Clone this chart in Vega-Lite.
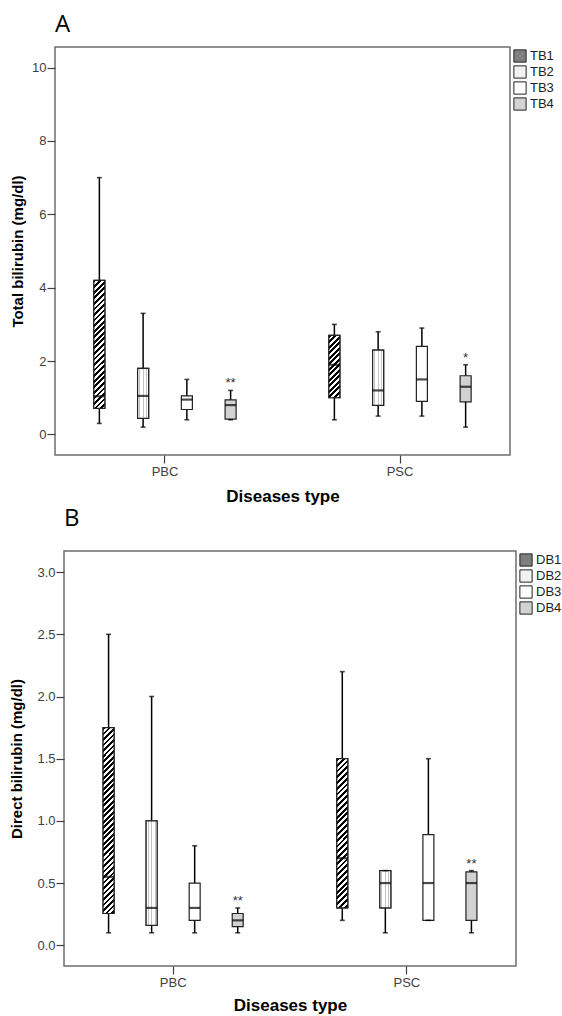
{
"$schema":"https://vega.github.io/schema/vega-lite/v6.json",
"padding":{"left":2,"top":12,"right":0,"bottom":0},
"background":"white",
"config":{
 "font":"Liberation Sans",
 "view":{"stroke":"#6e6e6e","strokeWidth":1.5},
 "axis":{"domain":false,"grid":false,"labelFont":"Liberation Sans","labelFontSize":13,"labelColor":"#404040","tickColor":"#404040","tickSize":8,"tickWidth":1.2,"titleFont":"Liberation Sans","titleFontSize":15,"titleFontWeight":"bold","titleColor":"#000"},
 "legend":{"symbolStrokeColor":"#222","symbolStrokeWidth":1},
 "title":{"anchor":"start","frame":"group","font":"Open Sans","fontSize":24,"fontWeight":"normal","color":"#000","offset":10}
},
"vconcat":[
{"hconcat":[
{"width":1,"height":1,"view":{"stroke":null},"data":{"values":[{"z":0}]},"mark":{"type":"point","opacity":0},"encoding":{}},
{
 "title":"A",
 "width":455,"height":408,
 "data":{"values":[
  {"d":"PBC","s":"TB1","min":0.3,"q1":0.71,"med":1.04,"q3":4.2,"max":7.0},
  {"d":"PBC","s":"TB2","min":0.2,"q1":0.44,"med":1.05,"q3":1.8,"max":3.3},
  {"d":"PBC","s":"TB3","min":0.4,"q1":0.68,"med":0.95,"q3":1.05,"max":1.5},
  {"d":"PBC","s":"TB4","min":0.4,"q1":0.42,"med":0.8,"q3":0.94,"max":1.2,"sig":"**"},
  {"d":"PSC","s":"TB1","min":0.4,"q1":1.0,"med":1.9,"q3":2.7,"max":3.0},
  {"d":"PSC","s":"TB2","min":0.5,"q1":0.79,"med":1.2,"q3":2.3,"max":2.8},
  {"d":"PSC","s":"TB3","min":0.5,"q1":0.9,"med":1.5,"q3":2.4,"max":2.9},
  {"d":"PSC","s":"TB4","min":0.2,"q1":0.89,"med":1.3,"q3":1.6,"max":1.9,"sig":"*"}
 ]},
 "encoding":{
  "x":{"field":"d","type":"nominal","title":"Diseases type","scale":{"paddingInner":0.064,"paddingOuter":0},"axis":{"labelAngle":0,"labelPadding":2,"titlePadding":10,"titleFontSize":17}},
  "xOffset":{"field":"s","type":"nominal","scale":{"paddingInner":0.748,"paddingOuter":0.888}}
 },
 "layer":[
  {"mark":{"type":"rule","color":"#000","strokeWidth":1.5},
   "encoding":{"y":{"field":"min","type":"quantitative","title":"Total bilirubin (mg/dl)","scale":{"domain":[-0.56,10.56],"nice":false,"zero":false},"axis":{"values":[0,2,4,6,8,10],"labelPadding":1,"titlePadding":6}},"y2":{"field":"max"}}},
  {"mark":{"type":"bar","stroke":"#222","strokeWidth":1.2},
   "encoding":{"y":{"field":"q1","type":"quantitative","title":"Total bilirubin (mg/dl)"},"y2":{"field":"q3"},
    "fill":{"field":"s","type":"nominal","scale":{"domain":["TB1","TB2","TB3","TB4"],"range":["#7f7f7f","#f2f2f2","#ffffff","#d2d2d2"]},
     "legend":{"title":null,"orient":"right","offset":0,"padding":2,"symbolType":"square","symbolSize":150,"labelFontSize":13,"labelFont":"Liberation Sans","labelColor":"#222","rowPadding":-2,"labelOffset":3}}}},
  {"transform":[{"filter":"datum.s==='TB2'"}],
   "mark":{"type":"bar","stroke":"#222","strokeWidth":1.2,"fill":{"gradient":"linear","x1":0,"y1":0,"x2":1,"y2":0,"stops":[{"offset":0,"color":"#fff"},{"offset":0.14,"color":"#fff"},{"offset":0.14,"color":"#c4c4c4"},{"offset":0.22,"color":"#c4c4c4"},{"offset":0.22,"color":"#fff"},{"offset":0.46,"color":"#fff"},{"offset":0.46,"color":"#c4c4c4"},{"offset":0.54,"color":"#c4c4c4"},{"offset":0.54,"color":"#fff"},{"offset":0.78,"color":"#fff"},{"offset":0.78,"color":"#c4c4c4"},{"offset":0.86,"color":"#c4c4c4"},{"offset":0.86,"color":"#fff"},{"offset":1,"color":"#fff"}]}},
   "encoding":{"y":{"field":"q1","type":"quantitative","title":"Total bilirubin (mg/dl)"},"y2":{"field":"q3"}}},
  {"transform":[{"filter":"datum.s==='TB1' && datum.d==='PBC'"}],
   "mark":{"type":"bar","stroke":"#222","strokeWidth":1.2,"fill":{"gradient":"linear","x1":0,"y1":0,"x2":0.0926,"y2":1.078,"stops":[
    {"offset":0,"color":"#000"},
    {"offset":0.02,"color":"#000"},{"offset":0.02,"color":"#fff"},{"offset":0.04,"color":"#fff"},{"offset":0.04,"color":"#000"},
    {"offset":0.06,"color":"#000"},{"offset":0.06,"color":"#fff"},{"offset":0.08,"color":"#fff"},{"offset":0.08,"color":"#000"},
    {"offset":0.1,"color":"#000"},{"offset":0.1,"color":"#fff"},{"offset":0.12,"color":"#fff"},{"offset":0.12,"color":"#000"},
    {"offset":0.14,"color":"#000"},{"offset":0.14,"color":"#fff"},{"offset":0.16,"color":"#fff"},{"offset":0.16,"color":"#000"},
    {"offset":0.18,"color":"#000"},{"offset":0.18,"color":"#fff"},{"offset":0.2,"color":"#fff"},{"offset":0.2,"color":"#000"},
    {"offset":0.22,"color":"#000"},{"offset":0.22,"color":"#fff"},{"offset":0.24,"color":"#fff"},{"offset":0.24,"color":"#000"},
    {"offset":0.26,"color":"#000"},{"offset":0.26,"color":"#fff"},{"offset":0.28,"color":"#fff"},{"offset":0.28,"color":"#000"},
    {"offset":0.3,"color":"#000"},{"offset":0.3,"color":"#fff"},{"offset":0.32,"color":"#fff"},{"offset":0.32,"color":"#000"},
    {"offset":0.34,"color":"#000"},{"offset":0.34,"color":"#fff"},{"offset":0.36,"color":"#fff"},{"offset":0.36,"color":"#000"},
    {"offset":0.38,"color":"#000"},{"offset":0.38,"color":"#fff"},{"offset":0.4,"color":"#fff"},{"offset":0.4,"color":"#000"},
    {"offset":0.42,"color":"#000"},{"offset":0.42,"color":"#fff"},{"offset":0.44,"color":"#fff"},{"offset":0.44,"color":"#000"},
    {"offset":0.46,"color":"#000"},{"offset":0.46,"color":"#fff"},{"offset":0.48,"color":"#fff"},{"offset":0.48,"color":"#000"},
    {"offset":0.5,"color":"#000"},{"offset":0.5,"color":"#fff"},{"offset":0.52,"color":"#fff"},{"offset":0.52,"color":"#000"},
    {"offset":0.54,"color":"#000"},{"offset":0.54,"color":"#fff"},{"offset":0.56,"color":"#fff"},{"offset":0.56,"color":"#000"},
    {"offset":0.58,"color":"#000"},{"offset":0.58,"color":"#fff"},{"offset":0.6,"color":"#fff"},{"offset":0.6,"color":"#000"},
    {"offset":0.62,"color":"#000"},{"offset":0.62,"color":"#fff"},{"offset":0.64,"color":"#fff"},{"offset":0.64,"color":"#000"},
    {"offset":0.66,"color":"#000"},{"offset":0.66,"color":"#fff"},{"offset":0.68,"color":"#fff"},{"offset":0.68,"color":"#000"},
    {"offset":0.7,"color":"#000"},{"offset":0.7,"color":"#fff"},{"offset":0.72,"color":"#fff"},{"offset":0.72,"color":"#000"},
    {"offset":0.74,"color":"#000"},{"offset":0.74,"color":"#fff"},{"offset":0.76,"color":"#fff"},{"offset":0.76,"color":"#000"},
    {"offset":0.78,"color":"#000"},{"offset":0.78,"color":"#fff"},{"offset":0.8,"color":"#fff"},{"offset":0.8,"color":"#000"},
    {"offset":0.82,"color":"#000"},{"offset":0.82,"color":"#fff"},{"offset":0.84,"color":"#fff"},{"offset":0.84,"color":"#000"},
    {"offset":0.86,"color":"#000"},{"offset":0.86,"color":"#fff"},{"offset":0.88,"color":"#fff"},{"offset":0.88,"color":"#000"},
    {"offset":0.9,"color":"#000"},{"offset":0.9,"color":"#fff"},{"offset":0.92,"color":"#fff"},{"offset":0.92,"color":"#000"},
    {"offset":0.94,"color":"#000"},{"offset":0.94,"color":"#fff"},{"offset":0.96,"color":"#fff"},{"offset":0.96,"color":"#000"},
    {"offset":0.98,"color":"#000"},{"offset":0.98,"color":"#fff"},{"offset":1,"color":"#fff"}]}},
   "encoding":{"y":{"field":"q1","type":"quantitative","title":"Total bilirubin (mg/dl)"},"y2":{"field":"q3"}}},
  {"transform":[{"filter":"datum.s==='TB1' && datum.d==='PSC'"}],
   "mark":{"type":"bar","stroke":"#222","strokeWidth":1.2,"fill":{"gradient":"linear","x1":0,"y1":0,"x2":0.2011,"y2":1.1408,"stops":[
    {"offset":0,"color":"#000"},
    {"offset":0.0375,"color":"#000"},{"offset":0.0375,"color":"#fff"},{"offset":0.075,"color":"#fff"},{"offset":0.075,"color":"#000"},
    {"offset":0.1125,"color":"#000"},{"offset":0.1125,"color":"#fff"},{"offset":0.15,"color":"#fff"},{"offset":0.15,"color":"#000"},
    {"offset":0.1875,"color":"#000"},{"offset":0.1875,"color":"#fff"},{"offset":0.225,"color":"#fff"},{"offset":0.225,"color":"#000"},
    {"offset":0.2625,"color":"#000"},{"offset":0.2625,"color":"#fff"},{"offset":0.3,"color":"#fff"},{"offset":0.3,"color":"#000"},
    {"offset":0.3375,"color":"#000"},{"offset":0.3375,"color":"#fff"},{"offset":0.375,"color":"#fff"},{"offset":0.375,"color":"#000"},
    {"offset":0.4125,"color":"#000"},{"offset":0.4125,"color":"#fff"},{"offset":0.45,"color":"#fff"},{"offset":0.45,"color":"#000"},
    {"offset":0.4875,"color":"#000"},{"offset":0.4875,"color":"#fff"},{"offset":0.525,"color":"#fff"},{"offset":0.525,"color":"#000"},
    {"offset":0.5625,"color":"#000"},{"offset":0.5625,"color":"#fff"},{"offset":0.6,"color":"#fff"},{"offset":0.6,"color":"#000"},
    {"offset":0.6375,"color":"#000"},{"offset":0.6375,"color":"#fff"},{"offset":0.675,"color":"#fff"},{"offset":0.675,"color":"#000"},
    {"offset":0.7125,"color":"#000"},{"offset":0.7125,"color":"#fff"},{"offset":0.75,"color":"#fff"},{"offset":0.75,"color":"#000"},
    {"offset":0.7875,"color":"#000"},{"offset":0.7875,"color":"#fff"},{"offset":0.825,"color":"#fff"},{"offset":0.825,"color":"#000"},
    {"offset":0.8625,"color":"#000"},{"offset":0.8625,"color":"#fff"},{"offset":0.9,"color":"#fff"},{"offset":0.9,"color":"#000"},
    {"offset":0.9375,"color":"#000"},{"offset":0.9375,"color":"#fff"},{"offset":0.975,"color":"#fff"},{"offset":0.975,"color":"#000"},
    {"offset":1,"color":"#000"}]}},
   "encoding":{"y":{"field":"q1","type":"quantitative","title":"Total bilirubin (mg/dl)"},"y2":{"field":"q3"}}},
  {"mark":{"type":"tick","color":"#000","thickness":2.2,"size":11},
   "encoding":{"y":{"field":"med","type":"quantitative","title":"Total bilirubin (mg/dl)"}}},
  {"mark":{"type":"tick","color":"#000","thickness":1.6,"size":5},
   "encoding":{"y":{"field":"min","type":"quantitative","title":"Total bilirubin (mg/dl)"}}},
  {"mark":{"type":"tick","color":"#000","thickness":1.6,"size":5},
   "encoding":{"y":{"field":"max","type":"quantitative","title":"Total bilirubin (mg/dl)"}}},
  {"transform":[{"filter":"datum.sig"}],
   "mark":{"type":"text","font":"Liberation Sans","fontSize":13,"color":"#333","baseline":"alphabetic","dy":-3},
   "encoding":{"y":{"field":"max","type":"quantitative","title":"Total bilirubin (mg/dl)"},"text":{"field":"sig"}}}
 ]
}
],"spacing":0},
{"hconcat":[
{"width":1,"height":1,"view":{"stroke":null},"data":{"values":[{"z":0}]},"mark":{"type":"point","opacity":0},"encoding":{}},
{
 "title":{"text":"B","offset":20},
 "width":452,"height":415,
 "data":{"values":[
  {"d":"PBC","s":"DB1","min":0.1,"q1":0.255,"med":0.55,"q3":1.75,"max":2.5},
  {"d":"PBC","s":"DB2","min":0.1,"q1":0.16,"med":0.3,"q3":1.0,"max":2.0},
  {"d":"PBC","s":"DB3","min":0.1,"q1":0.2,"med":0.3,"q3":0.5,"max":0.8},
  {"d":"PBC","s":"DB4","min":0.1,"q1":0.15,"med":0.2,"q3":0.255,"max":0.3,"sig":"**"},
  {"d":"PSC","s":"DB1","min":0.2,"q1":0.3,"med":0.7,"q3":1.5,"max":2.2},
  {"d":"PSC","s":"DB2","min":0.1,"q1":0.3,"med":0.5,"q3":0.6,"max":0.6},
  {"d":"PSC","s":"DB3","min":0.2,"q1":0.2,"med":0.5,"q3":0.89,"max":1.5},
  {"d":"PSC","s":"DB4","min":0.1,"q1":0.2,"med":0.5,"q3":0.59,"max":0.6,"sig":"**"}
 ]},
 "encoding":{
  "x":{"field":"d","type":"nominal","title":"Diseases type","scale":{"paddingInner":0.066,"paddingOuter":0},"axis":{"labelAngle":0,"labelPadding":2,"titlePadding":8,"titleFontSize":17}},
  "xOffset":{"field":"s","type":"nominal","scale":{"paddingInner":0.745,"paddingOuter":0.908}}
 },
 "layer":[
  {"mark":{"type":"rule","color":"#000","strokeWidth":1.5},
   "encoding":{"y":{"field":"min","type":"quantitative","title":"Direct bilirubin (mg/dl)","scale":{"domain":[-0.167,3.17],"nice":false,"zero":false},"axis":{"values":[0,0.5,1,1.5,2,2.5,3],"format":".1f","labelPadding":1,"titlePadding":12}},"y2":{"field":"max"}}},
  {"mark":{"type":"bar","stroke":"#222","strokeWidth":1.2},
   "encoding":{"y":{"field":"q1","type":"quantitative","title":"Direct bilirubin (mg/dl)"},"y2":{"field":"q3"},
    "fill":{"field":"s","type":"nominal","scale":{"domain":["DB1","DB2","DB3","DB4"],"range":["#7f7f7f","#f2f2f2","#ffffff","#d2d2d2"]},
     "legend":{"title":null,"orient":"right","offset":0,"padding":2,"symbolType":"square","symbolSize":150,"labelFontSize":13,"labelFont":"Liberation Sans","labelColor":"#222","rowPadding":-2,"labelOffset":3}}}},
  {"transform":[{"filter":"datum.s==='DB2'"}],
   "mark":{"type":"bar","stroke":"#222","strokeWidth":1.2,"fill":{"gradient":"linear","x1":0,"y1":0,"x2":1,"y2":0,"stops":[{"offset":0,"color":"#fff"},{"offset":0.14,"color":"#fff"},{"offset":0.14,"color":"#c4c4c4"},{"offset":0.22,"color":"#c4c4c4"},{"offset":0.22,"color":"#fff"},{"offset":0.46,"color":"#fff"},{"offset":0.46,"color":"#c4c4c4"},{"offset":0.54,"color":"#c4c4c4"},{"offset":0.54,"color":"#fff"},{"offset":0.78,"color":"#fff"},{"offset":0.78,"color":"#c4c4c4"},{"offset":0.86,"color":"#c4c4c4"},{"offset":0.86,"color":"#fff"},{"offset":1,"color":"#fff"}]}},
   "encoding":{"y":{"field":"q1","type":"quantitative","title":"Direct bilirubin (mg/dl)"},"y2":{"field":"q3"}}},
  {"transform":[{"filter":"datum.s==='DB1' && datum.d==='PBC'"}],
   "mark":{"type":"bar","stroke":"#222","strokeWidth":1.2,"fill":{"gradient":"linear","x1":0,"y1":0,"x2":0.0625,"y2":1.0555,"stops":[
    {"offset":0,"color":"#000"},
    {"offset":0.014,"color":"#000"},{"offset":0.014,"color":"#fff"},{"offset":0.028,"color":"#fff"},{"offset":0.028,"color":"#000"},
    {"offset":0.042,"color":"#000"},{"offset":0.042,"color":"#fff"},{"offset":0.056,"color":"#fff"},{"offset":0.056,"color":"#000"},
    {"offset":0.07,"color":"#000"},{"offset":0.07,"color":"#fff"},{"offset":0.084,"color":"#fff"},{"offset":0.084,"color":"#000"},
    {"offset":0.098,"color":"#000"},{"offset":0.098,"color":"#fff"},{"offset":0.112,"color":"#fff"},{"offset":0.112,"color":"#000"},
    {"offset":0.126,"color":"#000"},{"offset":0.126,"color":"#fff"},{"offset":0.14,"color":"#fff"},{"offset":0.14,"color":"#000"},
    {"offset":0.154,"color":"#000"},{"offset":0.154,"color":"#fff"},{"offset":0.168,"color":"#fff"},{"offset":0.168,"color":"#000"},
    {"offset":0.182,"color":"#000"},{"offset":0.182,"color":"#fff"},{"offset":0.196,"color":"#fff"},{"offset":0.196,"color":"#000"},
    {"offset":0.21,"color":"#000"},{"offset":0.21,"color":"#fff"},{"offset":0.224,"color":"#fff"},{"offset":0.224,"color":"#000"},
    {"offset":0.238,"color":"#000"},{"offset":0.238,"color":"#fff"},{"offset":0.252,"color":"#fff"},{"offset":0.252,"color":"#000"},
    {"offset":0.266,"color":"#000"},{"offset":0.266,"color":"#fff"},{"offset":0.28,"color":"#fff"},{"offset":0.28,"color":"#000"},
    {"offset":0.294,"color":"#000"},{"offset":0.294,"color":"#fff"},{"offset":0.308,"color":"#fff"},{"offset":0.308,"color":"#000"},
    {"offset":0.322,"color":"#000"},{"offset":0.322,"color":"#fff"},{"offset":0.336,"color":"#fff"},{"offset":0.336,"color":"#000"},
    {"offset":0.35,"color":"#000"},{"offset":0.35,"color":"#fff"},{"offset":0.364,"color":"#fff"},{"offset":0.364,"color":"#000"},
    {"offset":0.378,"color":"#000"},{"offset":0.378,"color":"#fff"},{"offset":0.392,"color":"#fff"},{"offset":0.392,"color":"#000"},
    {"offset":0.406,"color":"#000"},{"offset":0.406,"color":"#fff"},{"offset":0.42,"color":"#fff"},{"offset":0.42,"color":"#000"},
    {"offset":0.434,"color":"#000"},{"offset":0.434,"color":"#fff"},{"offset":0.448,"color":"#fff"},{"offset":0.448,"color":"#000"},
    {"offset":0.462,"color":"#000"},{"offset":0.462,"color":"#fff"},{"offset":0.476,"color":"#fff"},{"offset":0.476,"color":"#000"},
    {"offset":0.49,"color":"#000"},{"offset":0.49,"color":"#fff"},{"offset":0.504,"color":"#fff"},{"offset":0.504,"color":"#000"},
    {"offset":0.518,"color":"#000"},{"offset":0.518,"color":"#fff"},{"offset":0.532,"color":"#fff"},{"offset":0.532,"color":"#000"},
    {"offset":0.546,"color":"#000"},{"offset":0.546,"color":"#fff"},{"offset":0.56,"color":"#fff"},{"offset":0.56,"color":"#000"},
    {"offset":0.574,"color":"#000"},{"offset":0.574,"color":"#fff"},{"offset":0.588,"color":"#fff"},{"offset":0.588,"color":"#000"},
    {"offset":0.602,"color":"#000"},{"offset":0.602,"color":"#fff"},{"offset":0.616,"color":"#fff"},{"offset":0.616,"color":"#000"},
    {"offset":0.63,"color":"#000"},{"offset":0.63,"color":"#fff"},{"offset":0.644,"color":"#fff"},{"offset":0.644,"color":"#000"},
    {"offset":0.658,"color":"#000"},{"offset":0.658,"color":"#fff"},{"offset":0.672,"color":"#fff"},{"offset":0.672,"color":"#000"},
    {"offset":0.686,"color":"#000"},{"offset":0.686,"color":"#fff"},{"offset":0.7,"color":"#fff"},{"offset":0.7,"color":"#000"},
    {"offset":0.714,"color":"#000"},{"offset":0.714,"color":"#fff"},{"offset":0.728,"color":"#fff"},{"offset":0.728,"color":"#000"},
    {"offset":0.742,"color":"#000"},{"offset":0.742,"color":"#fff"},{"offset":0.756,"color":"#fff"},{"offset":0.756,"color":"#000"},
    {"offset":0.77,"color":"#000"},{"offset":0.77,"color":"#fff"},{"offset":0.784,"color":"#fff"},{"offset":0.784,"color":"#000"},
    {"offset":0.798,"color":"#000"},{"offset":0.798,"color":"#fff"},{"offset":0.812,"color":"#fff"},{"offset":0.812,"color":"#000"},
    {"offset":0.826,"color":"#000"},{"offset":0.826,"color":"#fff"},{"offset":0.84,"color":"#fff"},{"offset":0.84,"color":"#000"},
    {"offset":0.854,"color":"#000"},{"offset":0.854,"color":"#fff"},{"offset":0.868,"color":"#fff"},{"offset":0.868,"color":"#000"},
    {"offset":0.882,"color":"#000"},{"offset":0.882,"color":"#fff"},{"offset":0.896,"color":"#fff"},{"offset":0.896,"color":"#000"},
    {"offset":0.91,"color":"#000"},{"offset":0.91,"color":"#fff"},{"offset":0.924,"color":"#fff"},{"offset":0.924,"color":"#000"},
    {"offset":0.938,"color":"#000"},{"offset":0.938,"color":"#fff"},{"offset":0.952,"color":"#fff"},{"offset":0.952,"color":"#000"},
    {"offset":0.966,"color":"#000"},{"offset":0.966,"color":"#fff"},{"offset":0.98,"color":"#fff"},{"offset":0.98,"color":"#000"},
    {"offset":0.994,"color":"#000"},{"offset":0.994,"color":"#fff"},{"offset":1,"color":"#fff"}]}},
   "encoding":{"y":{"field":"q1","type":"quantitative","title":"Direct bilirubin (mg/dl)"},"y2":{"field":"q3"}}},
  {"transform":[{"filter":"datum.s==='DB1' && datum.d==='PSC'"}],
   "mark":{"type":"bar","stroke":"#222","strokeWidth":1.2,"fill":{"gradient":"linear","x1":0,"y1":0,"x2":0.0787,"y2":1.0679,"stops":[
    {"offset":0,"color":"#000"},
    {"offset":0.018,"color":"#000"},{"offset":0.018,"color":"#fff"},{"offset":0.036,"color":"#fff"},{"offset":0.036,"color":"#000"},
    {"offset":0.054,"color":"#000"},{"offset":0.054,"color":"#fff"},{"offset":0.072,"color":"#fff"},{"offset":0.072,"color":"#000"},
    {"offset":0.09,"color":"#000"},{"offset":0.09,"color":"#fff"},{"offset":0.108,"color":"#fff"},{"offset":0.108,"color":"#000"},
    {"offset":0.126,"color":"#000"},{"offset":0.126,"color":"#fff"},{"offset":0.144,"color":"#fff"},{"offset":0.144,"color":"#000"},
    {"offset":0.162,"color":"#000"},{"offset":0.162,"color":"#fff"},{"offset":0.18,"color":"#fff"},{"offset":0.18,"color":"#000"},
    {"offset":0.198,"color":"#000"},{"offset":0.198,"color":"#fff"},{"offset":0.216,"color":"#fff"},{"offset":0.216,"color":"#000"},
    {"offset":0.234,"color":"#000"},{"offset":0.234,"color":"#fff"},{"offset":0.252,"color":"#fff"},{"offset":0.252,"color":"#000"},
    {"offset":0.27,"color":"#000"},{"offset":0.27,"color":"#fff"},{"offset":0.288,"color":"#fff"},{"offset":0.288,"color":"#000"},
    {"offset":0.306,"color":"#000"},{"offset":0.306,"color":"#fff"},{"offset":0.324,"color":"#fff"},{"offset":0.324,"color":"#000"},
    {"offset":0.342,"color":"#000"},{"offset":0.342,"color":"#fff"},{"offset":0.36,"color":"#fff"},{"offset":0.36,"color":"#000"},
    {"offset":0.378,"color":"#000"},{"offset":0.378,"color":"#fff"},{"offset":0.396,"color":"#fff"},{"offset":0.396,"color":"#000"},
    {"offset":0.414,"color":"#000"},{"offset":0.414,"color":"#fff"},{"offset":0.432,"color":"#fff"},{"offset":0.432,"color":"#000"},
    {"offset":0.45,"color":"#000"},{"offset":0.45,"color":"#fff"},{"offset":0.468,"color":"#fff"},{"offset":0.468,"color":"#000"},
    {"offset":0.486,"color":"#000"},{"offset":0.486,"color":"#fff"},{"offset":0.504,"color":"#fff"},{"offset":0.504,"color":"#000"},
    {"offset":0.522,"color":"#000"},{"offset":0.522,"color":"#fff"},{"offset":0.54,"color":"#fff"},{"offset":0.54,"color":"#000"},
    {"offset":0.558,"color":"#000"},{"offset":0.558,"color":"#fff"},{"offset":0.576,"color":"#fff"},{"offset":0.576,"color":"#000"},
    {"offset":0.594,"color":"#000"},{"offset":0.594,"color":"#fff"},{"offset":0.612,"color":"#fff"},{"offset":0.612,"color":"#000"},
    {"offset":0.63,"color":"#000"},{"offset":0.63,"color":"#fff"},{"offset":0.648,"color":"#fff"},{"offset":0.648,"color":"#000"},
    {"offset":0.666,"color":"#000"},{"offset":0.666,"color":"#fff"},{"offset":0.684,"color":"#fff"},{"offset":0.684,"color":"#000"},
    {"offset":0.702,"color":"#000"},{"offset":0.702,"color":"#fff"},{"offset":0.72,"color":"#fff"},{"offset":0.72,"color":"#000"},
    {"offset":0.738,"color":"#000"},{"offset":0.738,"color":"#fff"},{"offset":0.756,"color":"#fff"},{"offset":0.756,"color":"#000"},
    {"offset":0.774,"color":"#000"},{"offset":0.774,"color":"#fff"},{"offset":0.792,"color":"#fff"},{"offset":0.792,"color":"#000"},
    {"offset":0.81,"color":"#000"},{"offset":0.81,"color":"#fff"},{"offset":0.828,"color":"#fff"},{"offset":0.828,"color":"#000"},
    {"offset":0.846,"color":"#000"},{"offset":0.846,"color":"#fff"},{"offset":0.864,"color":"#fff"},{"offset":0.864,"color":"#000"},
    {"offset":0.882,"color":"#000"},{"offset":0.882,"color":"#fff"},{"offset":0.9,"color":"#fff"},{"offset":0.9,"color":"#000"},
    {"offset":0.918,"color":"#000"},{"offset":0.918,"color":"#fff"},{"offset":0.936,"color":"#fff"},{"offset":0.936,"color":"#000"},
    {"offset":0.954,"color":"#000"},{"offset":0.954,"color":"#fff"},{"offset":0.972,"color":"#fff"},{"offset":0.972,"color":"#000"},
    {"offset":0.99,"color":"#000"},{"offset":0.99,"color":"#fff"},{"offset":1,"color":"#fff"}]}},
   "encoding":{"y":{"field":"q1","type":"quantitative","title":"Direct bilirubin (mg/dl)"},"y2":{"field":"q3"}}},
  {"mark":{"type":"tick","color":"#000","thickness":2.2,"size":11},
   "encoding":{"y":{"field":"med","type":"quantitative","title":"Direct bilirubin (mg/dl)"}}},
  {"mark":{"type":"tick","color":"#000","thickness":1.6,"size":5},
   "encoding":{"y":{"field":"min","type":"quantitative","title":"Direct bilirubin (mg/dl)"}}},
  {"mark":{"type":"tick","color":"#000","thickness":1.6,"size":5},
   "encoding":{"y":{"field":"max","type":"quantitative","title":"Direct bilirubin (mg/dl)"}}},
  {"transform":[{"filter":"datum.sig"}],
   "mark":{"type":"text","font":"Liberation Sans","fontSize":13,"color":"#333","baseline":"alphabetic","dy":-3},
   "encoding":{"y":{"field":"max","type":"quantitative","title":"Direct bilirubin (mg/dl)"},"text":{"field":"sig"}}}
 ]
}
],"spacing":0}
],
"spacing":1,
"resolve":{"scale":{"fill":"independent","x":"independent","y":"independent","xOffset":"independent"},"legend":{"fill":"independent"}}
}
